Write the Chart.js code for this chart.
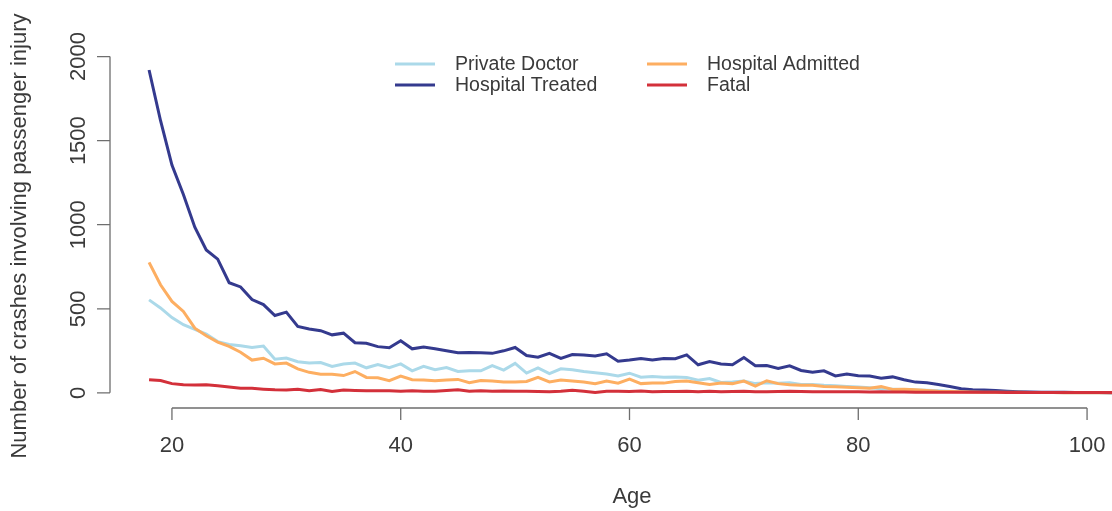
<!DOCTYPE html>
<html>
<head>
<meta charset="utf-8">
<title>Crashes involving passenger injury by age</title>
<script src="https://cdn.jsdelivr.net/npm/chart.js@4/dist/chart.umd.min.js"></script>
<style>
  body { margin: 0; background: #fff; }
  #wrap { width: 1112px; height: 511px; }
</style>
</head>
<body>
<div id="wrap"><canvas id="injuryChart" width="1112" height="511"></canvas></div>
<script>
// --- data ---
const ages = [18,19,20,21,22,23,24,25,26,27,28,29,30,31,32,33,34,35,36,37,38,39,40,
  41,42,43,44,45,46,47,48,49,50,51,52,53,54,55,56,57,58,59,60,61,62,63,64,65,66,67,68,69,70,
  71,72,73,74,75,76,77,78,79,80,81,82,83,84,85,86,87,88,89,90,91,92,93,94,95,96,97,98,99,100,
  101,102,103,104,105];

const privateDoctor = [553,505,448,405,378,350,305,288,280,270,278,200,207,185,177,180,157,172,177,149,168,150,172,
  131,158,138,150,127,131,131,162,135,175,118,148,115,143,137,127,120,112,100,117,93,97,93,95,92,75,85,62,65,70,
  55,60,57,60,50,50,45,42,38,35,30,25,22,20,17,15,12,10,8,6,5,4,3,3,2,2,2,1,1,
  1,1,1,1,1];

const hospitalTreated = [1920,1620,1355,1180,985,850,795,655,630,555,525,460,480,395,380,370,345,355,298,295,275,268,310,
  262,272,262,250,238,240,238,235,250,270,222,212,235,205,228,225,220,232,188,195,205,195,205,203,226,167,186,172,167,210,
  161,163,145,161,133,122,131,101,112,102,100,87,95,78,64,60,50,38,25,18,17,14,10,7,5,4,3,3,2,2,
  2,1,1,1,1];

const hospitalAdmitted = [776,643,544,484,385,340,302,276,242,195,206,172,177,143,122,111,111,103,127,92,90,73,100,
  78,77,72,77,80,60,73,70,65,65,68,92,65,77,70,64,55,70,58,82,55,58,58,68,71,60,50,58,55,70,
  40,72,55,48,45,45,38,37,33,30,28,37,20,22,18,14,10,8,6,5,4,4,3,3,2,2,2,1,1,
  1,1,1,1,1];

const fatal = [78,73,55,48,47,48,42,35,28,27,22,18,17,22,12,20,8,17,14,12,12,13,10,
  12,9,10,14,18,10,12,10,11,9,10,8,6,9,16,10,2,9,10,8,11,7,8,8,10,6,9,7,8,10,
  7,6,8,9,8,7,6,6,7,6,5,6,5,5,4,4,4,3,3,3,3,3,2,2,2,2,2,2,2,2,
  2,2,2,2,2];

const seriesNames = ['Private Doctor', 'Hospital Treated', 'Hospital Admitted', 'Fatal'];
const seriesColors = ['#abd9e9', '#343a8e', '#fdae61', '#d3303a'];
const xTicks = [20, 40, 60, 80, 100];
const yTicks = [0, 500, 1000, 1500, 2000];

const FONT = '"Liberation Sans", Arial, Helvetica, sans-serif';
const TEXT = '#3a3a3a';
const AXIS = '#6e6e6e';

function points(vals) {
  return ages.map((a, i) => ({ x: a, y: vals[i] }));
}

// R-style axes, titles and two-column legend
const baseGraphics = {
  id: 'baseGraphics',
  afterDraw(chart) {
    const ctx = chart.ctx;
    const xs = chart.scales.x;
    const ys = chart.scales.y;
    const area = chart.chartArea;
    ctx.save();

    // axes
    ctx.strokeStyle = AXIS;
    ctx.lineWidth = 1.3;
    ctx.beginPath();
    ctx.moveTo(xs.getPixelForValue(xTicks[0]), area.bottom);
    ctx.lineTo(xs.getPixelForValue(xTicks[xTicks.length - 1]), area.bottom);
    xTicks.forEach(t => {
      const px = xs.getPixelForValue(t);
      ctx.moveTo(px, area.bottom);
      ctx.lineTo(px, area.bottom + 12);
    });
    ctx.moveTo(area.left, ys.getPixelForValue(yTicks[0]));
    ctx.lineTo(area.left, ys.getPixelForValue(yTicks[yTicks.length - 1]));
    yTicks.forEach(t => {
      const py = ys.getPixelForValue(t);
      ctx.moveTo(area.left, py);
      ctx.lineTo(area.left - 13, py);
    });
    ctx.stroke();

    // tick labels
    ctx.fillStyle = TEXT;
    ctx.font = '22px ' + FONT;
    ctx.textAlign = 'center';
    ctx.textBaseline = 'middle';
    xTicks.forEach(t => {
      ctx.fillText(String(t), xs.getPixelForValue(t), 446);
    });
    yTicks.forEach(t => {
      ctx.save();
      ctx.translate(79, ys.getPixelForValue(t));
      ctx.rotate(-Math.PI / 2);
      ctx.fillText(String(t), 0, 0);
      ctx.restore();
    });

    // axis titles
    ctx.fillText('Age', 632, 497);
    ctx.save();
    ctx.translate(20, 236);
    ctx.rotate(-Math.PI / 2);
    ctx.fillText('Number of crashes involving passenger injury', 0, 0);
    ctx.restore();

    // legend
    const cols = [{ line: 395, text: 455 }, { line: 647, text: 707 }];
    const rows = [64, 85];
    ctx.font = '19.5px ' + FONT;
    ctx.textAlign = 'left';
    seriesNames.forEach((name, i) => {
      const c = cols[Math.floor(i / 2)];
      const y = rows[i % 2];
      ctx.strokeStyle = seriesColors[i];
      ctx.lineWidth = 3;
      ctx.beginPath();
      ctx.moveTo(c.line, y);
      ctx.lineTo(c.line + 40, y);
      ctx.stroke();
      ctx.fillStyle = TEXT;
      ctx.fillText(name, c.text, y + 1);
    });

    ctx.restore();
  }
};

const allSeries = [privateDoctor, hospitalTreated, hospitalAdmitted, fatal];

new Chart(document.getElementById('injuryChart'), {
  type: 'line',
  data: {
    datasets: allSeries.map((vals, i) => ({
      label: seriesNames[i],
      data: points(vals),
      borderColor: seriesColors[i],
      borderWidth: 3,
      pointRadius: 0,
      tension: 0,
      fill: false,
      order: allSeries.length - i // later series drawn on top
    }))
  },
  options: {
    responsive: false,
    animation: false,
    events: [],
    layout: { padding: { left: 110, right: 0, top: 30, bottom: 103 } },
    scales: {
      x: { type: 'linear', min: 14.585, max: 102.18, display: false },
      y: { type: 'linear', min: -90, max: 2158, display: false }
    },
    plugins: {
      legend: { display: false },
      tooltip: { enabled: false }
    }
  },
  plugins: [baseGraphics]
});
</script>
</body>
</html>
